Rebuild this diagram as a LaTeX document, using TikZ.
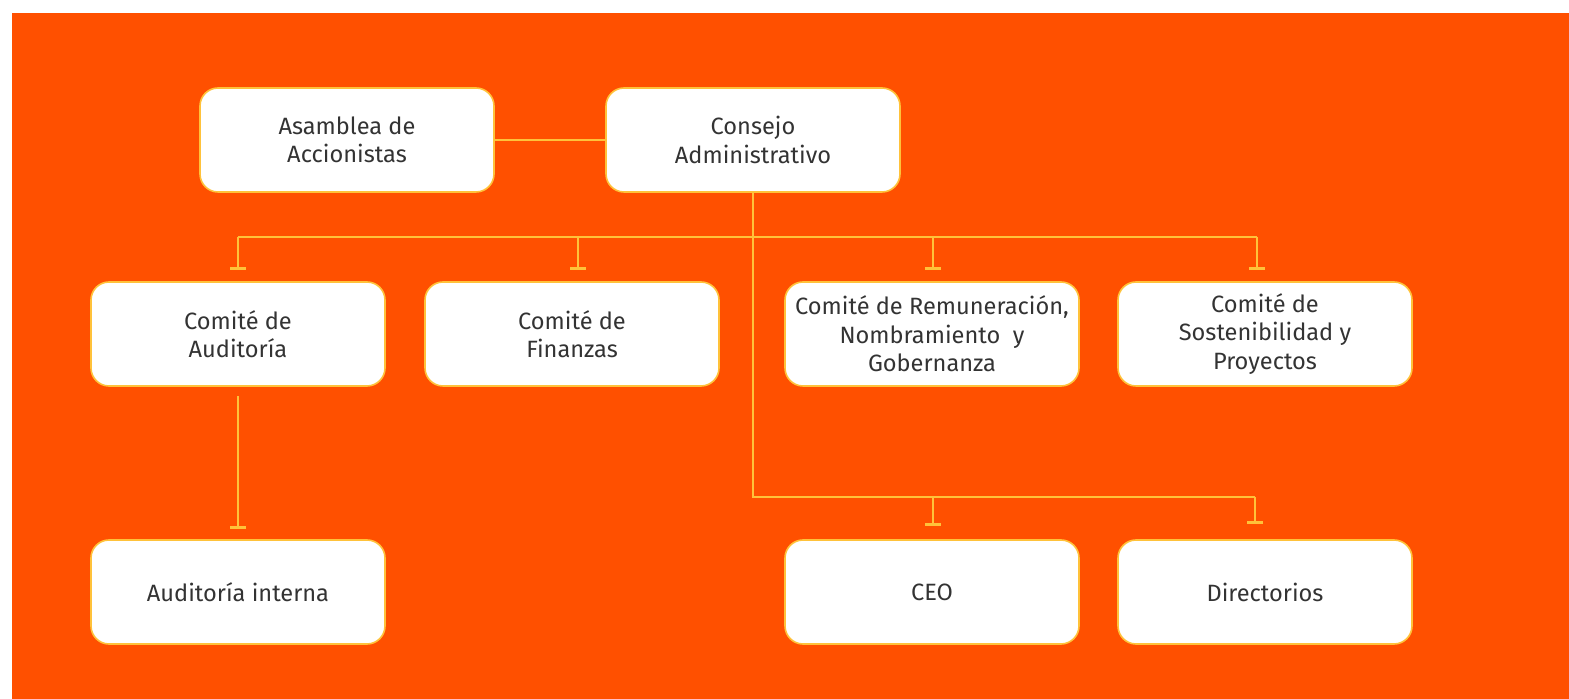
\documentclass[tikz,border=0pt]{standalone}
\usepackage{fontspec}
\setmainfont{Fira Sans}
\usetikzlibrary{arrows.meta}
\definecolor{bgorange}{HTML}{FF5000}
\definecolor{lineyellow}{HTML}{FFC23A}
\definecolor{textgray}{HTML}{333333}
\begin{document}
\begin{tikzpicture}[x=0.5pt,y=-0.5pt,
  box/.style={draw=lineyellow,line width=0.8pt,fill=white,rounded corners=9pt,
    minimum width=147pt,minimum height=52pt,inner sep=0pt,align=center,
    text=textgray,font=\fontsize{11.8}{14.2}\selectfont},
  link/.style={draw=lineyellow,line width=1pt},
  tick/.style={link,-{Bar[width=8pt,line width=1.8pt]}}]
\useasboundingbox (0,0) rectangle (1569,699);
\fill[bgorange] (12,13) rectangle (1569,699);

\node[box] (asamblea) at (347,140) {Asamblea de\\Accionistas};
\node[box] (consejo) at (753,140) {Consejo\\Administrativo};
\node[box] (audc) at (238,334) {Comité de\\Auditoría};
\node[box] (fin) at (572,334) {Comité de\\Finanzas};
\node[box] (rem) at (932,334) {Comité de Remuneración,\\Nombramiento~ y\\Gobernanza};
\node[box] (sos) at (1265,334) {Comité de\\Sostenibilidad y\\Proyectos};
\node[box] (audi) at (238,592) {Auditoría interna};
\node[box] (ceo) at (932,592) {CEO};
\node[box] (dir) at (1265,592) {Directorios};

\coordinate (b1) at (238,237);
\coordinate (b2) at (578,237);
\coordinate (b3) at (933,237);
\coordinate (b4) at (1257,237);
\coordinate (d1) at (933,497);
\coordinate (d2) at (1255,497);

\draw[link] (asamblea.east) -- (consejo.west);
\draw[link] (b1) -- (b4);
\draw[link] (consejo.south) |- (d2);

\draw[tick,shorten >=5.5pt] (b1) -- (b1 |- audc.north);
\draw[tick,shorten >=5.5pt] (b2) -- (b2 |- fin.north);
\draw[tick,shorten >=5.5pt] (b3) -- (b3 |- rem.north);
\draw[tick,shorten >=5.5pt] (b4) -- (b4 |- sos.north);

\draw[tick,shorten <=4.5pt,shorten >=5pt] (audc.south) -- (audi.north);
\draw[tick,shorten >=6.5pt] (d1) -- (d1 |- ceo.north);
\draw[tick,shorten >=7.5pt] (d2) -- (d2 |- dir.north);
\end{tikzpicture}
\end{document}
